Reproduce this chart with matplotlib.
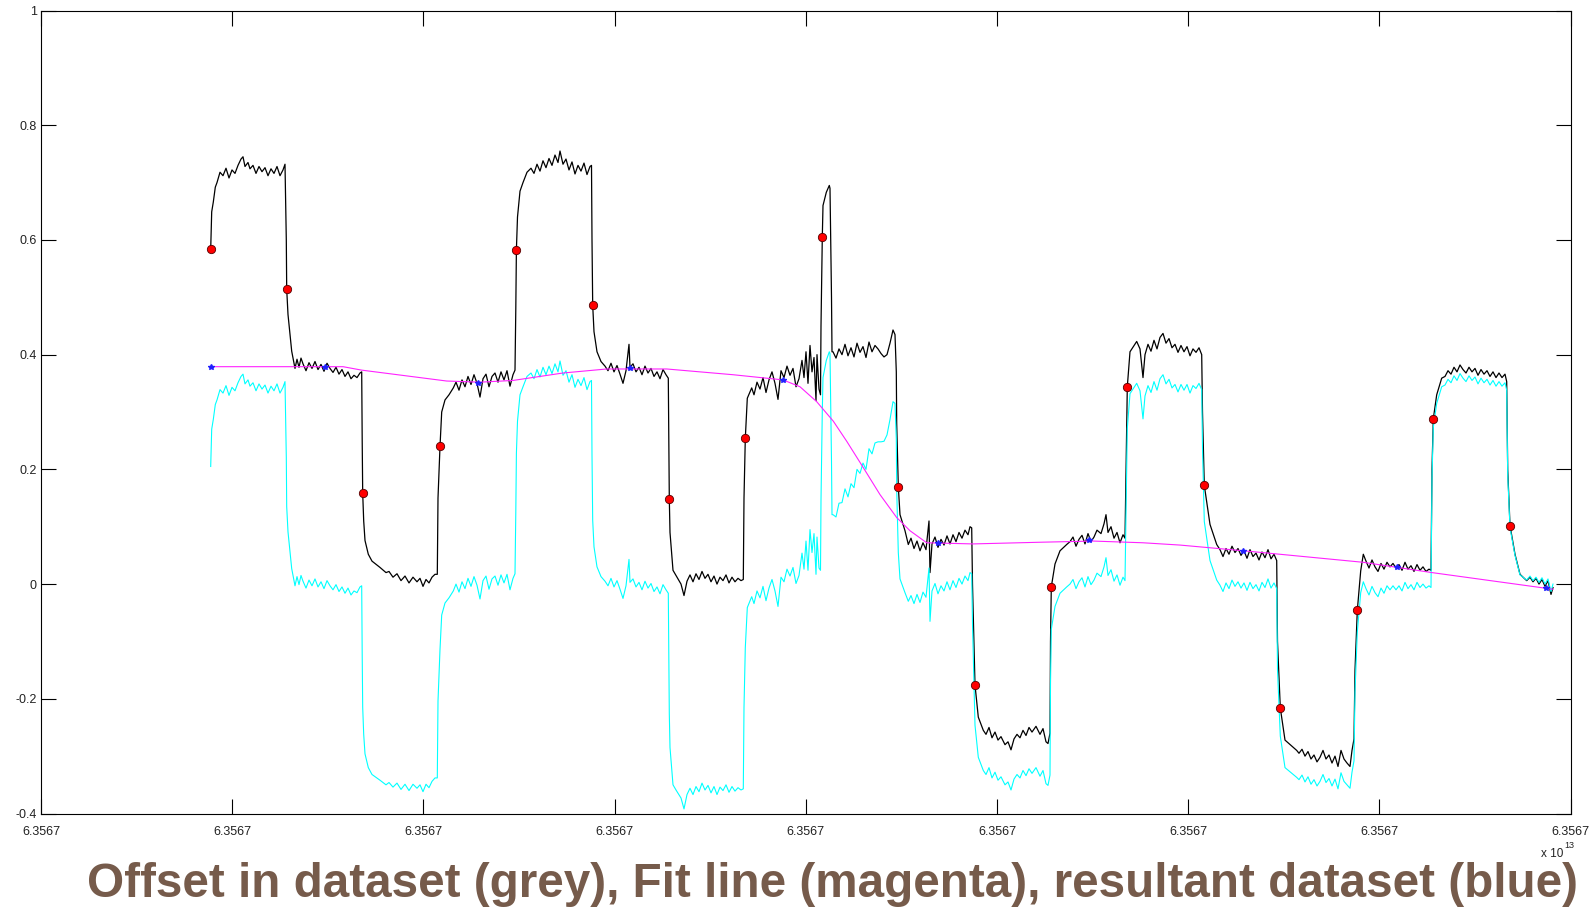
import matplotlib
matplotlib.use("Agg")
import matplotlib.pyplot as plt
import numpy as np

plt.rcParams["font.family"] = ["Liberation Sans", "DejaVu Sans"]

# x runs over the plotted time span (axis 0 .. X_MAX), all ticks read "6.3567" (x 10^13)
X_MAX = 1529.7
x_tick_labels = ["6.3567"] * 9
y_ticks = [-0.4, -0.2, 0, 0.2, 0.4, 0.6, 0.8, 1.0]
y_tick_labels = ["-0.4", "-0.2", "0", "0.2", "0.4", "0.6", "0.8", "1"]

title = "Offset in dataset (grey), Fit line (magenta), resultant dataset (blue)"

# offset dataset (grey / black trace)
black = [
    (169.7, .584), (170.7, .649), (172.3, .666), (174.3, .692), (176, .700), (179, .718),
    (182, .712), (185, .725), (188, .708), (191, .722), (194, .716), (197, .730), (200, .741),
    (202, .745), (204, .728), (207, .735), (209, .724), (212, .730), (215, .716), (218, .728),
    (221, .719), (224, .726), (227, .712), (230, .724), (233, .716), (236, .728), (239, .712),
    (242, .722), (244, .732),
    (245.3, .600), (245.7, .514), (247, .470), (250.7, .406), (254, .376),
    (256, .392), (258, .378), (260, .394), (262, .384), (265, .372), (268, .386), (271, .376),
    (274, .388), (277, .374), (280, .383), (283, .371), (286, .385), (289, .376), (292, .369),
    (295, .378), (298, .366), (301, .374), (304, .362), (307, .370), (310, .358), (313, .364),
    (316, .360), (319, .368), (320.7, .370),
    (321.2, .250), (321.7, .158), (322.7, .110), (324, .076), (327.3, .052), (331, .040),
    (339, .029), (345, .020), (348, .022), (352, .012), (356, .018), (360, .006), (364, .014),
    (368, .002), (372, .012), (376, .004), (379, .010), (382, -.004), (385, .008), (388, .002),
    (391, .012), (394, .017), (396.3, .017),
    (397, .150), (399, .240), (400.7, .300), (404, .321), (408, .330), (412.3, .342),
    (415, .352), (418, .338), (421, .356), (424, .344), (427, .362), (430, .348), (433, .365),
    (436, .350), (439, .326), (442, .358), (445, .366), (448, .344), (451, .362), (454, .368),
    (457, .352), (460, .370), (463, .356), (466, .372), (469, .345), (472, .365), (474, .373),
    (474.8, .480), (475.4, .583), (476.5, .640), (479, .685), (482, .700), (486, .718),
    (490, .725), (493, .716), (496, .732), (499, .720), (502, .738), (505, .726), (508, .742),
    (511, .730), (514, .748), (517, .735), (519, .755), (522, .732), (525, .741), (528, .722),
    (531, .736), (534, .715), (537, .730), (540, .720), (543, .734), (546, .714), (549, .728),
    (550.5, .730),
    (551, .600), (551.7, .486), (553, .440), (556, .405), (560, .388), (564, .380),
    (567, .372), (570, .385), (573, .370), (576, .381), (579, .366), (582, .350), (585, .372),
    (588, .418), (589, .378), (592, .384), (595, .370), (598, .378), (601, .365), (604, .380),
    (607, .368), (610, .376), (613, .362), (616, .370), (619, .358), (622, .374), (625, .365),
    (627.3, .359),
    (627.8, .250), (628.3, .149), (629, .090), (632, .024), (635, .015), (640, .000),
    (643, -.020), (646, .005), (649, .016), (652, .004), (655, .018), (658, .008), (661, .022),
    (664, .010), (667, .017), (670, .004), (673, .014), (676, .000), (679, .012), (682, .006),
    (685, .016), (688, .002), (691, .012), (694, .004), (697, .010), (700, .006), (702.3, .008),
    (703, .150), (704.3, .254), (706.3, .324), (710.7, .342), (713, .330), (716, .352),
    (719, .340), (722, .360), (725, .334), (728, .356), (731, .370), (734, .350), (737, .322),
    (740, .372), (743, .360), (746, .380), (749, .364), (752, .376), (755, .344), (758, .358),
    (761, .390), (763, .360), (765, .405), (767, .350), (769, .416), (771, .370), (773, .395),
    (775, .320), (776, .400), (778, .340), (779.5, .330),
    (780, .450), (781.3, .605), (782, .660), (785.3, .683), (788.3, .695), (789, .690),
    (790.5, .500), (791, .405), (792, .405), (795, .394),
    (798, .410), (801, .400), (804, .418), (807, .398), (810, .412), (813, .396), (816, .420),
    (819, .404), (822, .414), (825, .395), (828, .422), (831, .405), (834, .416), (837, .410),
    (840, .402), (843, .396), (846, .400), (849, .420), (852, .443), (854, .435), (855.3, .370),
    (855.7, .280), (857.3, .170), (859, .121), (864, .093), (867.3, .069),
    (870, .080), (873, .062), (876, .075), (879, .058), (882, .072), (885, .060), (888, .110),
    (889, .020), (891, .070), (894, .082), (897, .064), (900, .078), (903, .068), (906, .084),
    (909, .070), (912, .086), (915, .074), (918, .090), (921, .080), (924, .094), (927, .086),
    (929, .100), (930.7, .098),
    (931.5, .000), (934, -.176), (937.3, -.232), (942.3, -.255), (945, -.262), (948, -.250),
    (951, -.268), (954, -.258), (957, -.272), (960, -.266), (964, -.280), (967, -.275),
    (970, -.289), (973, -.270), (976, -.262), (979, -.268), (982, -.255), (985, -.264),
    (988, -.250), (991, -.258), (995, -.248), (999, -.262), (1002, -.252), (1005, -.275),
    (1007, -.278), (1009, -.260),
    (1009.5, -.100), (1010.3, -.005), (1014, .035), (1019, .058), (1025.7, .069),
    (1029, .074), (1032, .082), (1035, .066), (1038, .078), (1041, .085), (1044, .070),
    (1047, .088), (1050, .074), (1053, .082), (1056, .094), (1060, .088), (1063, .105),
    (1065, .121), (1067, .090), (1070, .100), (1073, .080), (1076, .090), (1079, .072),
    (1082, .086), (1084, .080),
    (1085, .200), (1086.3, .344), (1089, .405), (1095.7, .423), (1099, .410), (1102, .360),
    (1104, .400), (1107, .418), (1110, .406), (1113, .425), (1116, .410), (1119, .430),
    (1122, .437), (1125, .420), (1128, .428), (1131, .412), (1134, .418), (1137, .404),
    (1140, .416), (1143, .405), (1146, .414), (1149, .398), (1152, .410), (1155, .404),
    (1158, .412), (1160.7, .400),
    (1161.5, .300), (1163.3, .172), (1169, .104), (1175.7, .069), (1179, .060), (1182, .048),
    (1185, .062), (1188, .052), (1191, .066), (1194, .055), (1197, .062), (1200, .050),
    (1203, .058), (1206, .045), (1209, .060), (1212, .048), (1215, .054), (1218, .042),
    (1221, .056), (1224, .046), (1227, .060), (1230, .044), (1233, .052), (1235.7, .041),
    (1236.5, -.100), (1239.3, -.216), (1244, -.272), (1255.7, -.290), (1258, -.295),
    (1261, -.288), (1264, -.300), (1267, -.292), (1270, -.305), (1273, -.298), (1276, -.310),
    (1279, -.302), (1282, -.290), (1285, -.305), (1288, -.298), (1291, -.312), (1294, -.300),
    (1297, -.318), (1300, -.290), (1303, -.305), (1306, -.312), (1309, -.318), (1311, -.290),
    (1313, -.270),
    (1314, -.150), (1316.3, -.046), (1319.7, .023), (1322.3, .052), (1325, .040),
    (1328, .028), (1331, .042), (1334, .030), (1337, .022), (1340, .036), (1343, .026),
    (1346, .038), (1349, .030), (1352, .036), (1355, .028), (1358, .034), (1361, .024),
    (1364, .038), (1367, .026), (1370, .032), (1373, .022), (1376, .034), (1379, .024),
    (1382, .030), (1385, .022), (1388, .026), (1390, .024),
    (1391, .200), (1392.3, .288), (1395.7, .330), (1400.7, .359), (1404, .362), (1407, .372),
    (1410, .366), (1413, .378), (1416, .370), (1419, .382), (1422, .374), (1425, .368),
    (1428, .378), (1431, .370), (1434, .376), (1437, .364), (1440, .374), (1443, .366),
    (1446, .372), (1449, .362), (1452, .370), (1455, .360), (1458, .368), (1461, .360),
    (1464, .366), (1465.7, .353),
    (1466.7, .200), (1469, .102), (1474, .052), (1479, .017), (1485.7, .006), (1489, .012),
    (1492, .004), (1495, .010), (1498, .000), (1501, .008), (1504, -.004), (1507, .006),
    (1510, -.018), (1512, -.006),
]

# resultant dataset (cyan trace)
cyan = [
    (169.7, .205), (170.7, .270), (172.3, .287), (174.3, .313), (176, .321), (179, .339),
    (182, .333), (185, .346), (188, .329), (191, .343), (194, .337), (197, .351), (200, .362),
    (202, .366), (204, .349), (207, .356), (209, .345), (212, .351), (215, .337), (218, .349),
    (221, .340), (224, .347), (227, .333), (230, .345), (233, .337), (236, .349), (239, .333),
    (242, .343), (244, .353),
    (245.3, .221), (245.7, .135), (247, .091), (250.7, .027), (254, -.003),
    (256, .013), (258, -.001), (260, .015), (262, .005), (265, -.007), (268, .007), (271, -.003),
    (274, .009), (277, -.005), (280, .004), (283, -.008), (286, .006), (289, -.003), (292, -.010),
    (295, -.001), (298, -.013), (301, -.005), (304, -.016), (307, -.007), (310, -.019),
    (313, -.012), (316, -.015), (319, -.005), (320.7, -.003),
    (321.2, -.123), (321.7, -.215), (322.7, -.262), (324, -.296), (327.3, -.320), (331, -.332),
    (339, -.342), (345, -.350), (348, -.346), (352, -.354), (356, -.347), (360, -.358),
    (364, -.349), (368, -.360), (372, -.349), (376, -.356), (379, -.350), (382, -.362),
    (385, -.349), (388, -.355), (391, -.344), (394, -.338), (396.3, -.338),
    (397, -.204), (399, -.114), (400.7, -.054), (404, -.033), (408, -.024), (412.3, -.012),
    (415, .000), (418, -.014), (421, .004), (424, -.008), (427, .010), (430, -.004), (433, .013),
    (436, -.002), (439, -.026), (442, .006), (445, .014), (448, -.009), (451, .009), (454, .014),
    (457, -.002), (460, .016), (463, .002), (466, .017), (469, -.010), (472, .010), (474, .018),
    (474.8, .125), (475.4, .228), (476.5, .284), (479, .330), (482, .344), (486, .362),
    (490, .368), (493, .358), (496, .374), (499, .361), (502, .378), (505, .365), (508, .380),
    (511, .367), (514, .384), (517, .370), (519, .389), (522, .364), (525, .372), (528, .352),
    (531, .365), (534, .343), (537, .357), (540, .346), (543, .360), (546, .339), (549, .353),
    (550.5, .355),
    (551, .225), (551.7, .111), (553, .065), (556, .030), (560, .013), (564, .005),
    (567, -.003), (570, .010), (573, -.005), (576, .006), (579, -.009), (582, -.025),
    (585, -.003), (588, .043), (589, .003), (592, .009), (595, -.005), (598, .003),
    (601, -.010), (604, .005), (607, -.007), (610, .001), (613, -.013), (616, -.005),
    (619, -.017), (622, -.001), (625, -.010), (627.3, -.016),
    (627.8, -.125), (628.3, -.226), (629, -.285), (632, -.350), (635, -.359), (640, -.373),
    (643, -.392), (646, -.367), (649, -.356), (652, -.367), (655, -.353), (658, -.362),
    (661, -.347), (664, -.359), (667, -.351), (670, -.364), (673, -.353), (676, -.367),
    (679, -.354), (682, -.360), (685, -.350), (688, -.363), (691, -.353), (694, -.361),
    (697, -.355), (700, -.359), (702.3, -.357),
    (703, -.215), (704.3, -.111), (706.3, -.041), (710.7, -.022), (713, -.034), (716, -.012),
    (719, -.024), (722, -.004), (725, -.029), (728, -.007), (731, .008), (734, -.012),
    (737, -.039), (740, .012), (743, .004), (746, .026), (749, .014), (752, .029), (755, .001),
    (758, .015), (761, .054), (763, .026), (765, .075), (767, .024), (769, .095), (771, .055),
    (773, .088), (775, .017), (776, .082), (778, .028), (779.5, .024),
    (780, .146), (781.3, .303), (782, .360), (785.3, .390), (788.3, .405), (789, .402),
    (790.5, .214), (791, .121), (792, .121), (795, .117),
    (798, .141), (801, .142), (804, .166), (807, .152), (810, .175), (813, .168), (816, .200),
    (819, .193), (822, .211), (825, .200), (828, .236), (831, .227), (834, .246), (837, .248),
    (840, .248), (843, .249), (846, .260), (849, .287), (852, .318), (854, .315), (855.3, .253),
    (855.7, .165), (857.3, .055), (859, .009), (864, -.015), (867.3, -.030),
    (870, -.020), (873, -.034), (876, -.018), (879, -.032), (882, -.014), (885, -.023),
    (888, .028), (889, -.065), (891, -.012), (894, .001), (897, -.017), (900, -.003),
    (903, -.012), (906, .004), (909, -.010), (912, .006), (915, -.006), (918, .010),
    (921, .000), (924, .014), (927, .006), (929, .020), (930.7, .018),
    (931.5, -.070), (934, -.246), (937.3, -.302), (942.3, -.325), (945, -.332), (948, -.320),
    (951, -.338), (954, -.328), (957, -.342), (960, -.336), (964, -.350), (967, -.345),
    (970, -.359), (973, -.340), (976, -.332), (979, -.338), (982, -.325), (985, -.334),
    (988, -.322), (991, -.330), (995, -.320), (999, -.335), (1002, -.325), (1005, -.348),
    (1007, -.351), (1009, -.333),
    (1009.5, -.174), (1010.3, -.079), (1014, -.039), (1019, -.016), (1025.7, -.005),
    (1029, .000), (1032, .008), (1035, -.008), (1038, .004), (1041, .011), (1044, -.005),
    (1047, .013), (1050, -.001), (1053, .007), (1056, .019), (1060, .013), (1063, .030),
    (1065, .046), (1067, .015), (1070, .025), (1073, .005), (1076, .016), (1079, -.002),
    (1082, .012), (1084, .006),
    (1085, .127), (1086.3, .271), (1089, .332), (1095.7, .350), (1099, .337), (1102, .288),
    (1104, .328), (1107, .346), (1110, .334), (1113, .353), (1116, .338), (1119, .358),
    (1122, .365), (1125, .349), (1128, .357), (1131, .342), (1134, .348), (1137, .335),
    (1140, .348), (1143, .338), (1146, .348), (1149, .333), (1152, .346), (1155, .341),
    (1158, .350), (1160.7, .339),
    (1161.5, .236), (1163.3, .109), (1169, .041), (1175.7, .007), (1179, -.002), (1182, -.013),
    (1185, .002), (1188, -.008), (1191, .007), (1194, -.004), (1197, .004), (1200, -.007),
    (1203, .002), (1206, -.011), (1209, .003), (1212, -.008), (1215, -.001), (1218, -.012),
    (1221, .003), (1224, -.006), (1227, .009), (1230, -.007), (1233, .002), (1235.7, -.008),
    (1236.5, -.150), (1239.3, -.265), (1244, -.320), (1255.7, -.337), (1258, -.341),
    (1261, -.333), (1264, -.345), (1267, -.336), (1270, -.349), (1273, -.341), (1276, -.352),
    (1279, -.344), (1282, -.332), (1285, -.346), (1288, -.339), (1291, -.352), (1294, -.340),
    (1297, -.357), (1300, -.329), (1303, -.344), (1306, -.350), (1309, -.356), (1311, -.328),
    (1313, -.308),
    (1314, -.188), (1316.3, -.084), (1319.7, -.015), (1322.3, .004), (1325, -.008),
    (1328, -.019), (1331, -.004), (1334, -.015), (1337, -.022), (1340, -.007), (1343, -.016),
    (1346, -.003), (1349, -.010), (1352, -.003), (1355, -.010), (1358, -.003), (1361, -.012),
    (1364, .003), (1367, -.008), (1370, -.001), (1373, -.010), (1376, .003), (1379, -.006),
    (1382, .000), (1385, -.007), (1388, -.003), (1390, -.006),
    (1391, .185), (1392.3, .273), (1395.7, .315), (1400.7, .344), (1404, .347), (1407, .357),
    (1410, .351), (1413, .363), (1416, .355), (1419, .367), (1422, .359), (1425, .353),
    (1428, .363), (1431, .355), (1434, .361), (1437, .349), (1440, .359), (1443, .351),
    (1446, .357), (1449, .347), (1452, .355), (1455, .345), (1458, .353), (1461, .345),
    (1464, .351), (1465.7, .338),
    (1466.7, .190), (1469, .098), (1474, .050), (1479, .016), (1485.7, .007), (1489, .014),
    (1492, .006), (1495, .012), (1498, .003), (1501, .011), (1504, .000), (1507, .009),
    (1510, -.013), (1512, .000),
]

# fit line (magenta)
fit = [
    (169.7, .379), (302, .379), (320.7, .373), (405.7, .354), (439, .352), (472, .355),
    (522, .368), (565.7, .375), (625.7, .375), (692, .365), (742, .356), (759, .344),
    (775.7, .318), (792.3, .284), (805.7, .249), (822.3, .203), (839, .156), (855.7, .116),
    (869, .093), (885.7, .072), (932, .070), (1000.7, .073), (1052, .075), (1102, .072),
    (1139, .068), (1209, .057), (1322, .038), (1391, .020), (1512, -.009),
]

# fit knots (blue stars)
knots = [
    (169.7, .379), (284, .379), (437.3, .351), (589, .376), (741.7, .356),
    (897.3, .071), (1048.3, .076), (1202.3, .058), (1355.7, .030), (1505, -.007),
]

# step midpoints (red dots)
steps = [
    (169.7, .584), (245.7, .514), (321.7, .158), (399, .240), (475.4, .583), (551.7, .486),
    (628.3, .149), (704.3, .254), (781.3, .605), (857.3, .170), (934, -.176), (1010.3, -.005),
    (1086.3, .344), (1163.3, .172), (1239.3, -.216), (1316.3, -.046), (1392.3, .288),
    (1469, .102),
]

W, H = 1594, 908
fig = plt.figure(figsize=(W / 100, H / 100), dpi=100)
ax = fig.add_axes([41 / W, 1 - 813.5 / H, 1529.7 / W, 803 / H])

bx, by = np.array(black).T
cx, cy = np.array(cyan).T
fx, fy = np.array(fit).T
kx, ky = np.array(knots).T
sx, sy = np.array(steps).T

ax.plot(bx, by, color="black", lw=0.9, zorder=2)
ax.plot(cx, cy, color="#00ffff", lw=0.8, zorder=3)
ax.plot(fx, fy, color="#ff22ff", lw=0.8, zorder=4)
ax.plot(kx, ky, ls="none", marker="*", color="#2020ff", ms=4, zorder=5)
ax.plot(sx, sy, ls="none", marker="o", ms=6, mfc="#ff0000", mec="#550000",
        mew=0.6, zorder=6)

ax.set_xlim(0, X_MAX)
ax.set_ylim(-0.4, 1.0)
ax.set_xticks(np.linspace(0, X_MAX, 9))
ax.set_xticklabels(x_tick_labels)
ax.set_yticks(y_ticks)
ax.set_yticklabels(y_tick_labels)
ax.tick_params(direction="in", length=10.5, width=0.8, top=True, right=True,
               labelsize=9, colors="black", labelcolor="#222222")
ax.tick_params(axis="x", pad=9)
ax.tick_params(axis="y", pad=3)
for s in ax.spines.values():
    s.set_linewidth(0.8)

fig.text(1563 / W, 1 - 857 / H, "x 10", ha="right", va="baseline", fontsize=8.5,
         color="#222222")
fig.text(1564 / W, 1 - 848 / H, "13", ha="left", va="baseline", fontsize=6.5,
         color="#222222")

# bold title, sized so that it spans the same width as in the reference
t = fig.text(86.7 / W, 1 - 897 / H, title, ha="left", va="baseline", fontsize=34,
             fontweight="bold", color="#765b4b")
fig.canvas.draw()
bb = t.get_window_extent()
t.set_fontsize(34 * 1493 / bb.width)

fig.savefig("out.png", dpi=100)
